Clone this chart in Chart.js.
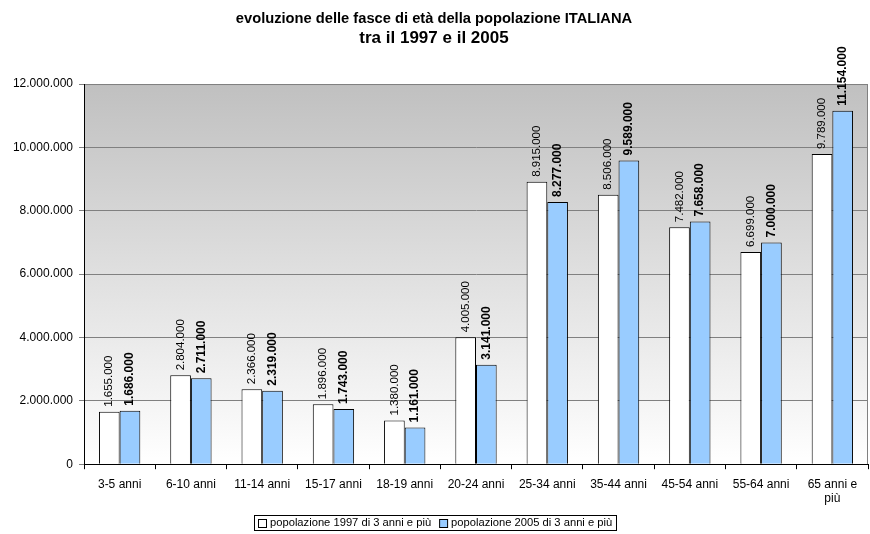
<!DOCTYPE html>
<html>
<head>
<meta charset="utf-8">
<script src="https://cdn.jsdelivr.net/npm/chart.js@4/dist/chart.umd.min.js"></script>
<style>
  html, body { margin: 0; padding: 0; background: #fff; }
  #wrap { width: 870px; height: 534px; }
</style>
</head>
<body>
<div id="wrap"><canvas id="chart" width="870" height="534"></canvas></div>
<script>
const categories = ['3-5 anni', '6-10 anni', '11-14 anni', '15-17 anni', '18-19 anni', '20-24 anni',
    '25-34 anni', '35-44 anni', '45-54 anni', '55-64 anni', ['65 anni e', 'più']];
const pop1997 = [1655000, 2804000, 2366000, 1896000, 1380000, 4005000, 8915000, 8506000, 7482000, 6699000, 9789000];
const pop2005 = [1686000, 2711000, 2319000, 1743000, 1161000, 3141000, 8277000, 9589000, 7658000, 7000000, 11154000];
const yTicks = [0, 2000000, 4000000, 6000000, 8000000, 10000000, 12000000];

const FONT = '"Liberation Sans", Arial, sans-serif';

// 1234567 -> "1.234.567"
const fmt = v => String(v).replace(/\B(?=(\d{3})+(?!\d))/g, '.');

// gradient plot background + grey frame
const plotBg = {
    id: 'plotBg',
    beforeDraw(chart) {
        const { ctx, chartArea: a } = chart;
        const g = ctx.createLinearGradient(0, a.top, 0, a.bottom);
        g.addColorStop(0, '#c0c0c0');
        g.addColorStop(1, '#ffffff');
        ctx.save();
        ctx.fillStyle = g;
        ctx.fillRect(a.left, a.top, a.right - a.left, a.bottom - a.top);
        ctx.strokeStyle = '#808080';
        ctx.lineWidth = 1;
        ctx.beginPath();
        ctx.moveTo(a.left, a.top + 0.5);
        ctx.lineTo(a.right - 0.5, a.top + 0.5);
        ctx.lineTo(a.right - 0.5, a.bottom);
        ctx.stroke();
        ctx.restore();
    }
};

// rotated value labels above each bar (2005 in bold)
const valueLabels = {
    id: 'valueLabels',
    afterDatasetsDraw(chart) {
        const { ctx } = chart;
        chart.data.datasets.forEach((ds, di) => {
            const meta = chart.getDatasetMeta(di);
            meta.data.forEach((bar, i) => {
                ctx.save();
                ctx.translate(bar.x, bar.y - 5);
                ctx.rotate(-Math.PI / 2);
                ctx.font = di === 1 ? 'bold 12px ' + FONT : '11.5px ' + FONT;
                ctx.fillStyle = '#000';
                ctx.textAlign = 'left';
                ctx.textBaseline = 'middle';
                ctx.fillText(fmt(ds.data[i]), 0, 0);
                ctx.restore();
            });
        });
    }
};

// framed legend under the x axis, built from the datasets
const boxedLegend = {
    id: 'boxedLegend',
    afterDraw(chart) {
        const { ctx } = chart;
        const sets = chart.data.datasets;
        ctx.save();
        ctx.font = '11.2px ' + FONT;
        const sq = 8, gap = 4, itemGap = 8, pad = 4;
        const widths = sets.map(ds => sq + gap + ctx.measureText(ds.label).width);
        const total = widths.reduce((a, b) => a + b, 0) + itemGap * (sets.length - 1) + pad * 2;
        const top = 515, h = 15;
        let x = Math.round((chart.width - total) / 2);
        ctx.strokeStyle = '#000';
        ctx.lineWidth = 1;
        ctx.strokeRect(x + 0.5, top + 0.5, Math.round(total), h);
        x += pad;
        const mid = top + h / 2 + 0.5;
        sets.forEach((ds, i) => {
            ctx.fillStyle = ds.backgroundColor;
            ctx.fillRect(x + 0.5, Math.round(mid - sq / 2) + 0.5, sq, sq);
            ctx.strokeRect(x + 0.5, Math.round(mid - sq / 2) + 0.5, sq, sq);
            ctx.fillStyle = '#000';
            ctx.textBaseline = 'middle';
            ctx.fillText(ds.label, x + sq + gap, mid);
            x += widths[i] + itemGap;
        });
        ctx.restore();
    }
};

new Chart(document.getElementById('chart'), {
    type: 'bar',
    data: {
        labels: categories,
        datasets: [{
            label: 'popolazione 1997 di 3 anni e più',
            data: pop1997,
            backgroundColor: '#ffffff',
            borderColor: '#000000',
            borderWidth: 1
        }, {
            label: 'popolazione 2005 di 3 anni e più',
            data: pop2005,
            backgroundColor: '#99ccff',
            borderColor: '#000000',
            borderWidth: 1
        }]
    },
    options: {
        responsive: false,
        animation: false,
        layout: { padding: { left: 0, right: 2, top: 0, bottom: 20 } },
        datasets: { bar: { categoryPercentage: 0.58, barPercentage: 1 } },
        plugins: {
            title: {
                display: true,
                text: 'evoluzione delle fasce di età della popolazione ITALIANA',
                color: '#000',
                font: { family: FONT, size: 14.7, weight: 'bold' },
                padding: { top: 10, bottom: 0 }
            },
            subtitle: {
                display: true,
                text: 'tra il 1997 e il 2005',
                color: '#000',
                font: { family: FONT, size: 17, weight: 'bold' },
                padding: { top: 0, bottom: 36 }
            },
            legend: { display: false },
            tooltip: { enabled: false }
        },
        scales: {
            x: {
                grid: { display: true, drawOnChartArea: false, drawTicks: true, tickLength: 5, color: '#000', offset: true },
                border: { color: '#000' },
                ticks: { color: '#000', font: { family: FONT, size: 12 }, padding: 8, maxRotation: 0, autoSkip: false }
            },
            y: {
                min: 0,
                max: 12000000,
                afterBuildTicks(scale) { scale.ticks = yTicks.map(v => ({ value: v })); },
                afterFit(scale) { scale.width = 84; },
                grid: { color: '#808080', tickLength: 5, drawTicks: true },
                border: { color: '#000' },
                ticks: { color: '#000', font: { family: FONT, size: 12 }, padding: 6, callback: v => fmt(v) }
            }
        }
    },
    plugins: [plotBg, valueLabels, boxedLegend]
});
</script>
</body>
</html>
